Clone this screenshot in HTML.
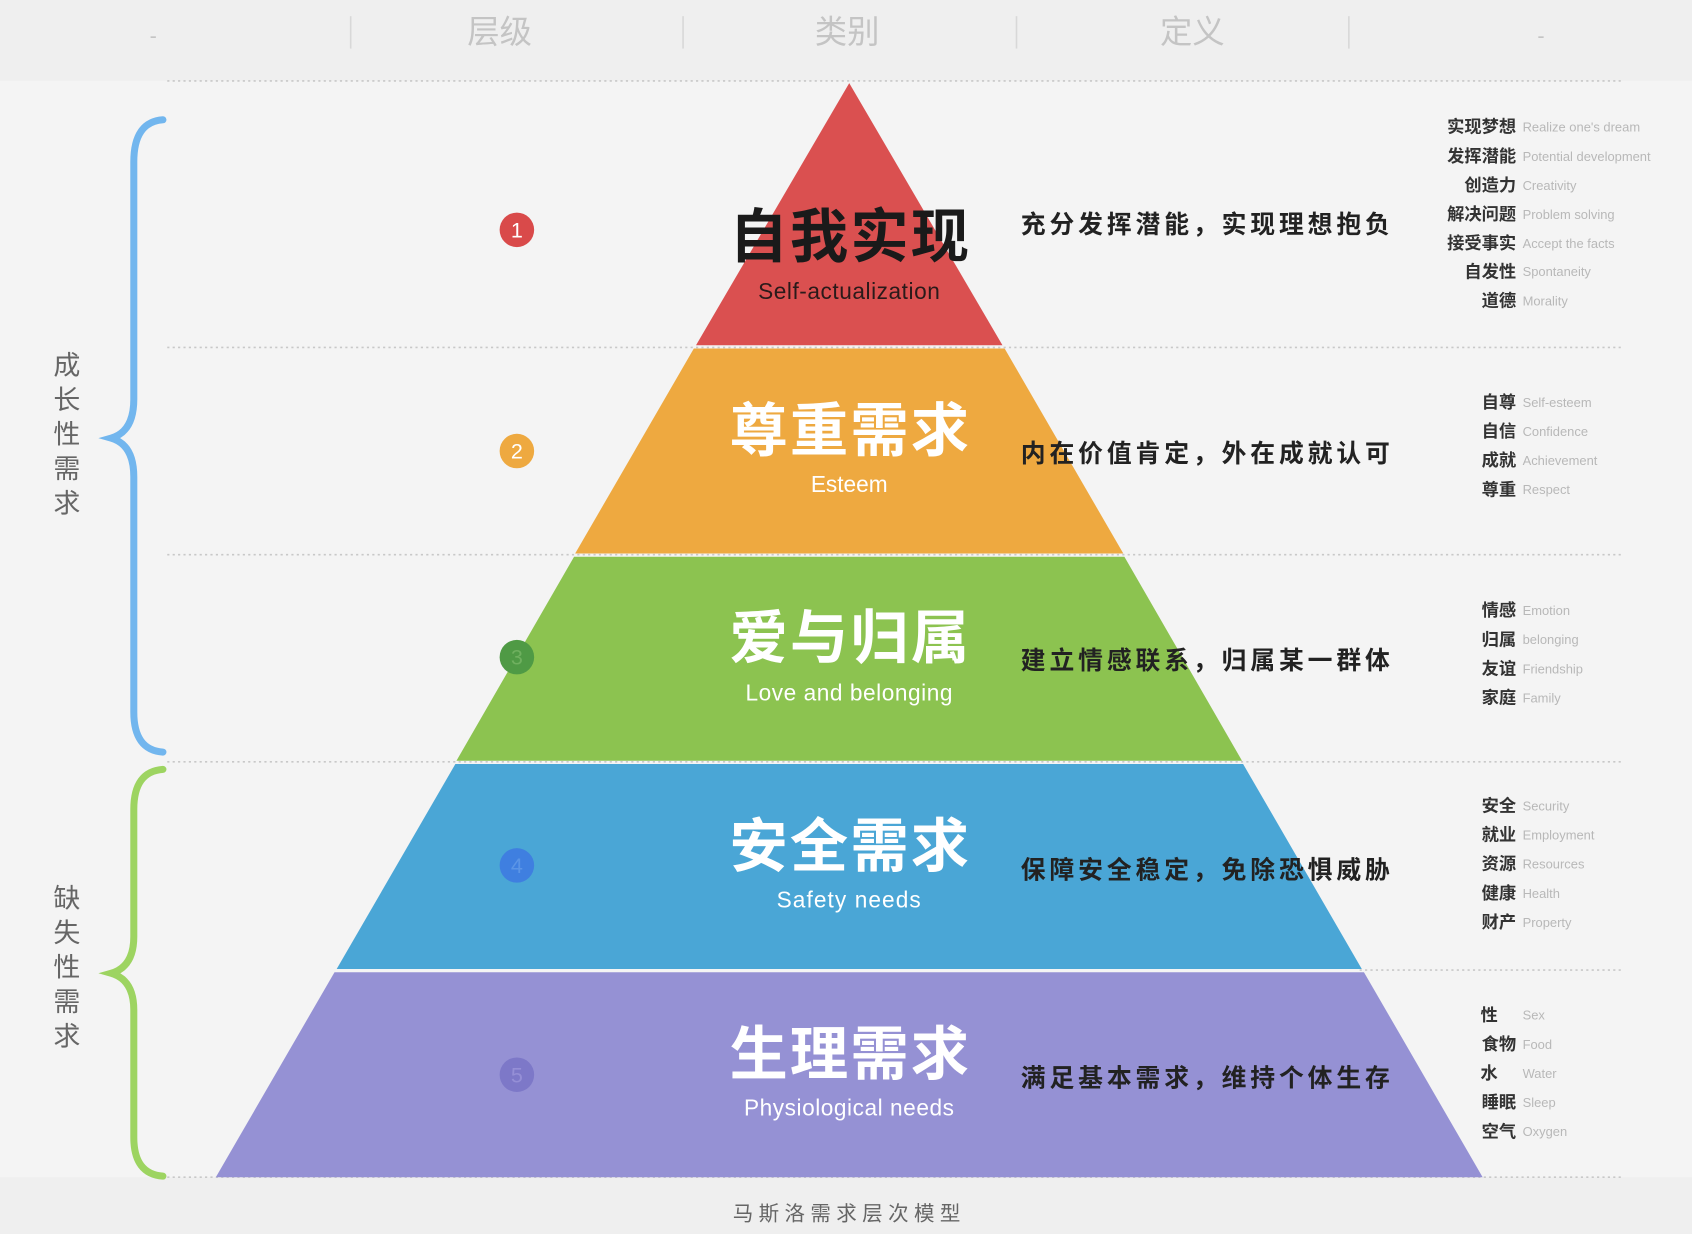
<!DOCTYPE html>
<html><head><meta charset="utf-8"><style>
html,body{margin:0;padding:0;background:#f4f4f4;}
svg{display:block}
text{font-family:"Liberation Sans","Noto Sans CJK SC",sans-serif;}
</style></head><body>
<svg width="1692" height="1234" viewBox="0 0 1568 1143.6" preserveAspectRatio="none" xmlns="http://www.w3.org/2000/svg">
<rect x="0" y="0" width="1568" height="1144" fill="#f4f4f4"/>
<rect x="0" y="0" width="1568" height="75" fill="#efefef"/>
<rect x="0" y="1091" width="1568" height="53" fill="#efefef"/>
<g stroke="#d8d8d8" stroke-width="1.5">
<line x1="325" y1="15" x2="325" y2="45"/><line x1="633" y1="15" x2="633" y2="45"/>
<line x1="942" y1="15" x2="942" y2="45"/><line x1="1250" y1="15" x2="1250" y2="45"/>
</g>
<g fill="#c4c4c4" font-size="30" text-anchor="middle">
<text x="142" y="40" font-size="20">-</text>
<text x="463" y="40">层级</text><text x="785" y="40">类别</text><text x="1105" y="40">定义</text>
<text x="1428" y="40" font-size="20">-</text>
</g>
<g stroke="#c8c8c8" stroke-width="1.5" stroke-dasharray="2 3">
<line x1="155" y1="75" x2="1505" y2="75"/>
<line x1="155" y1="322" x2="1505" y2="322"/>
<line x1="155" y1="514" x2="1505" y2="514"/>
<line x1="155" y1="706" x2="1505" y2="706"/>
<line x1="1260" y1="899" x2="1505" y2="899"/>
<line x1="155" y1="1091" x2="1505" y2="1091"/>
</g>
<!-- pyramid -->
<polygon points="787,77 929,320 645,320" fill="#da5050"/>
<polygon points="643,323 931,323 1041,513 533,513" fill="#eea940"/>
<polygon points="532,516 1042,516 1151,705 423,705" fill="#8cc350"/>
<polygon points="422,708 1152,708 1262,898 312,898" fill="#4aa6d6"/>
<polygon points="310,901 1264,901 1374,1091 200,1091" fill="#9591d4"/>
<!-- titles -->
<g text-anchor="middle">
<text x="787" y="238" font-size="54" font-weight="bold" fill="#1a1a1a" textLength="222" font-family="Noto Sans CJK SC">自我实现</text>
<text x="787" y="277" font-size="21" fill="#2a1a1a" letter-spacing="0.5">Self-actualization</text>
<text x="787" y="418" font-size="54" font-weight="bold" fill="#fff" textLength="222" font-family="Noto Sans CJK SC">尊重需求</text>
<text x="787" y="456" font-size="21" fill="#fff">Esteem</text>
<text x="787" y="610" font-size="54" font-weight="bold" fill="#fff" textLength="222" font-family="Noto Sans CJK SC">爱与归属</text>
<text x="787" y="649" font-size="21" fill="#fff" letter-spacing="0.5">Love and belonging</text>
<text x="787" y="803" font-size="54" font-weight="bold" fill="#fff" textLength="222" font-family="Noto Sans CJK SC">安全需求</text>
<text x="787" y="841" font-size="21" fill="#fff" letter-spacing="1">Safety needs</text>
<text x="787" y="996" font-size="54" font-weight="bold" fill="#fff" textLength="222" font-family="Noto Sans CJK SC">生理需求</text>
<text x="787" y="1034" font-size="21" fill="#fff" letter-spacing="0.5">Physiological needs</text>
</g>
<!-- circles -->
<g text-anchor="middle" font-size="20" fill="#fff">
<circle cx="479" cy="213" r="16" fill="#d94a4a"/><text x="479" y="220">1</text>
<circle cx="479" cy="418" r="16" fill="#eea940"/><text x="479" y="425">2</text>
<circle cx="479" cy="609" r="16" fill="#4f9a45"/><text x="479" y="616" fill="#6fb05f">3</text>
<circle cx="479" cy="802" r="16" fill="#3f7fe0"/><text x="479" y="809" fill="#5b95e6">4</text>
<circle cx="479" cy="996" r="16" fill="#7d78c8"/><text x="479" y="1003" fill="#958fd6">5</text>
</g>
<!-- definitions -->
<g font-size="23" fill="#222" font-weight="bold" font-family="Noto Sans CJK SC">
<text x="946" y="216" textLength="342">充分发挥潜能，实现理想抱负</text>
<text x="946" y="428" textLength="342">内在价值肯定，外在成就认可</text>
<text x="946" y="620" textLength="342">建立情感联系，归属某一群体</text>
<text x="946" y="814" textLength="342">保障安全稳定，免除恐惧威胁</text>
<text x="946" y="1007" textLength="342">满足基本需求，维持个体生存</text>
</g>
<!-- right lists -->
<g font-size="16" fill="#333" text-anchor="end" font-weight="bold" font-family="Noto Sans CJK SC">
<text x="1405" y="123">实现梦想</text><text x="1405" y="150">发挥潜能</text><text x="1405" y="177">创造力</text>
<text x="1405" y="204">解决问题</text><text x="1405" y="231">接受事实</text><text x="1405" y="257">自发性</text><text x="1405" y="284">道德</text>
<text x="1405" y="378">自尊</text><text x="1405" y="405">自信</text><text x="1405" y="432">成就</text><text x="1405" y="459">尊重</text>
<text x="1405" y="571">情感</text><text x="1405" y="598">归属</text><text x="1405" y="625">友谊</text><text x="1405" y="652">家庭</text>
<text x="1405" y="752">安全</text><text x="1405" y="779">就业</text><text x="1405" y="806">资源</text><text x="1405" y="833">健康</text><text x="1405" y="860">财产</text>
<text x="1388" y="946">性</text><text x="1405" y="973">食物</text><text x="1388" y="1000">水</text><text x="1405" y="1027">睡眠</text><text x="1405" y="1054">空气</text>
</g>
<g font-size="12" fill="#b8b8b8">
<text x="1411" y="122">Realize one's dream</text><text x="1411" y="149">Potential development</text><text x="1411" y="176">Creativity</text>
<text x="1411" y="203">Problem solving</text><text x="1411" y="230">Accept the facts</text><text x="1411" y="256">Spontaneity</text><text x="1411" y="283">Morality</text>
<text x="1411" y="377">Self-esteem</text><text x="1411" y="404">Confidence</text><text x="1411" y="431">Achievement</text><text x="1411" y="458">Respect</text>
<text x="1411" y="570">Emotion</text><text x="1411" y="597">belonging</text><text x="1411" y="624">Friendship</text><text x="1411" y="651">Family</text>
<text x="1411" y="751">Security</text><text x="1411" y="778">Employment</text><text x="1411" y="805">Resources</text><text x="1411" y="832">Health</text><text x="1411" y="859">Property</text>
<text x="1411" y="945">Sex</text><text x="1411" y="972">Food</text><text x="1411" y="999">Water</text><text x="1411" y="1026">Sleep</text><text x="1411" y="1053">Oxygen</text>
</g>
<!-- braces -->
<path d="M151,111 Q124,113 124,150 L124,370 Q124,400 103,406 Q124,412 124,442 L124,660 Q124,695 151,697" fill="none" stroke="#72b6ee" stroke-width="6.5" stroke-linecap="round"/>
<path d="M151,713 Q124,715 124,750 L124,868 Q124,896 103,902 Q124,908 124,936 L124,1054 Q124,1088 151,1090" fill="none" stroke="#9dd461" stroke-width="6.5" stroke-linecap="round"/>
<g font-size="25" fill="#666" text-anchor="middle" font-family="Noto Sans CJK SC">
<text x="62" y="347">成</text><text x="62" y="379">长</text><text x="62" y="411">性</text><text x="62" y="443">需</text><text x="62" y="475">求</text>
<text x="62" y="841">缺</text><text x="62" y="873">失</text><text x="62" y="905">性</text><text x="62" y="937">需</text><text x="62" y="969">求</text>
</g>
<text x="787" y="1131" font-size="19" fill="#666" text-anchor="middle" letter-spacing="5" font-family="Noto Sans CJK SC">马斯洛需求层次模型</text>
</svg>
</body></html>
